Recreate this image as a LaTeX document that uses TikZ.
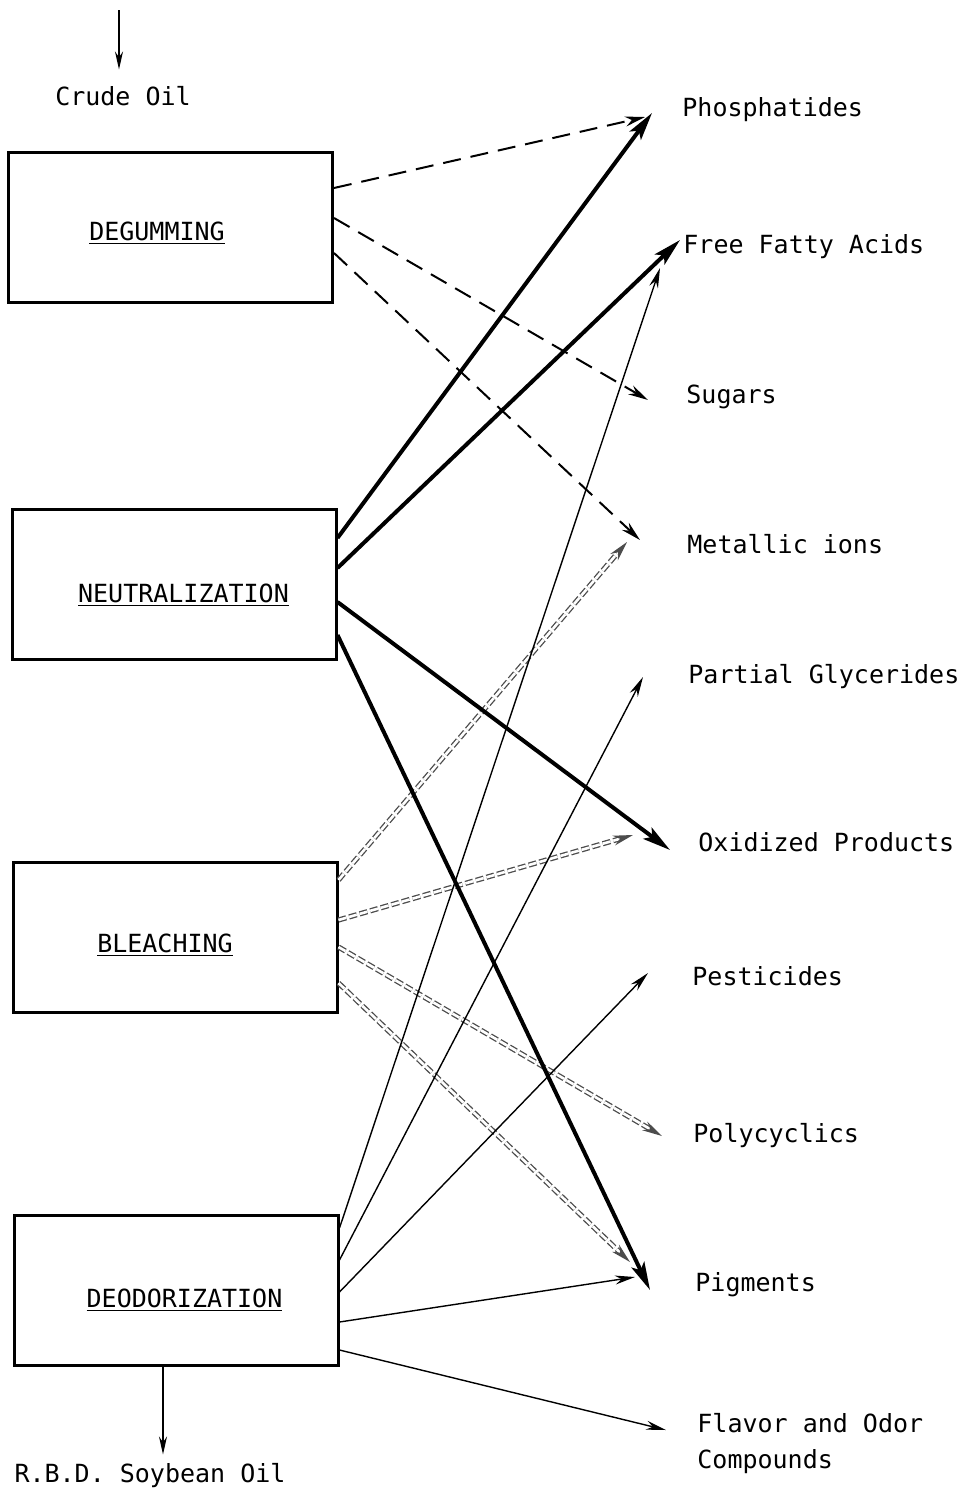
\documentclass[tikz,border=0pt]{standalone}
\usepackage{fontspec}
\setmainfont{DejaVu Sans Mono}
\usetikzlibrary{arrows.meta}
\begin{document}
\begin{tikzpicture}[x=0.5pt,y=-0.5pt,
  every node/.style={font=\fontsize{12.5}{18}\selectfont, inner sep=0pt},
  procbox/.style={draw, line width=1.5pt, minimum width=162pt, minimum height=75pt},
  lbl/.style={anchor=base west},
  gumarr/.style={line width=1pt, dash pattern=on 9pt off 5pt, -{Stealth[length=10pt,width=5pt]}},
  neutarr/.style={line width=2pt, -{Stealth[length=14pt,width=7pt,inset=3pt]}},
  bleacharr/.style={draw=black!70, line width=0.65pt, double=white, double distance=1.3pt, dash pattern=on 4pt off 1.5pt, -{Stealth[length=10pt,width=5pt]}},
  deodarr/.style={line width=0.7pt, -{Stealth[length=10pt,width=4.5pt]}},
  flowarr/.style={line width=0.7pt, -{Stealth[length=9pt,width=4pt]}}]
\useasboundingbox (0,0) rectangle (966,1490);

% process boxes
\node[procbox] (degum)  at (170.5,227.5) {};
\node[procbox] (neut)   at (174,584.5) {};
\node[procbox] (bleach) at (175,937.5) {};
\node[procbox] (deod)   at (176,1290.5) {};

\node[anchor=base] (tdegum)  at (157,240)  {\underline{DEGUMMING}};
\node[anchor=base] (tneut)   at (183.5,602) {\underline{NEUTRALIZATION}};
\node[anchor=base] (tbleach) at (165,952)  {\underline{BLEACHING}};
\node[anchor=base] (tdeod)   at (184.5,1307) {\underline{DEODORIZATION}};

% input / output
\node[anchor=base] (crude) at (123,105) {Crude Oil};
\node[anchor=base] (rbd) at (150,1482) {R.B.D. Soybean Oil};
\coordinate (crudeTop) at (119,10);
\draw[flowarr] (crudeTop) -- ([xshift=-2pt,yshift=8pt]crude.north);
\draw[flowarr] ([xshift=-6.5pt]deod.south) -- ([xshift=6.5pt,yshift=4pt]rbd.north);

% products
\node[lbl] (phos)   at (682,116)  {Phosphatides};
\node[lbl] (ffa)    at (683,253)  {Free Fatty Acids};
\node[lbl] (sugars) at (686,403)  {Sugars};
\node[lbl] (metal)  at (687,553)  {Metallic ions};
\node[lbl] (partial) at (688,683) {Partial Glycerides};
\node[lbl] (oxid)   at (698,851)  {Oxidized Products};
\node[lbl] (pest)   at (692,985)  {Pesticides};
\node[lbl] (poly)   at (693,1142) {Polycyclics};
\node[lbl] (pig)    at (695,1291) {Pigments};
\node[anchor=north west, align=left] (flavor) at (697,1413) {Flavor and Odor\\Compounds};

% degumming
\draw[gumarr] ([yshift=19.75pt]degum.east) -- ([xshift=-18.5pt,yshift=-0.5pt]phos.base west);
\draw[gumarr] ([yshift=4.75pt]degum.east) -- ([xshift=-19pt,yshift=1.5pt]sugars.base west);
\draw[gumarr] ([yshift=-12.75pt]degum.east) -- ([xshift=-23.5pt,yshift=6.5pt]metal.base west);

% bleaching
\draw[bleacharr] ([yshift=28.75pt]bleach.east) -- ([xshift=-30pt,yshift=5.5pt]metal.base west);
\draw[bleacharr] ([yshift=8.75pt]bleach.east) -- ([xshift=-32.5pt,yshift=8pt]oxid.base west);
\draw[bleacharr] ([yshift=-4.75pt]bleach.east) -- ([xshift=-15.5pt,yshift=3pt]poly.base west);
\draw[bleacharr] ([yshift=-22.75pt]bleach.east) -- ([xshift=-32.5pt,yshift=14.5pt]pig.base west);

% deodorization
\draw[deodarr] ([yshift=31.25pt]deod.east) -- ([xshift=-11.5pt,yshift=-7.5pt]ffa.base west);
\draw[deodarr] ([yshift=15.25pt]deod.east) -- ([xshift=-22.5pt,yshift=3pt]partial.base west);
\draw[deodarr] ([yshift=-0.75pt]deod.east) -- ([xshift=-22pt,yshift=6pt]pest.base west);
\draw[deodarr] ([yshift=-15.75pt]deod.east) -- ([xshift=-30pt,yshift=7pt]pig.base west);
\draw[deodarr] ([yshift=-29.75pt]deod.east) -- ([xshift=-15.5pt,yshift=-8.5pt]flavor.north west);

% neutralization
\draw[neutarr] ([yshift=23.25pt]neut.east) -- ([xshift=-15pt,yshift=1.5pt]phos.base west);
\draw[neutarr] ([yshift=8.25pt]neut.east) -- ([xshift=-1.5pt,yshift=6.5pt]ffa.base west);
\draw[neutarr] ([yshift=-8.75pt]neut.east) -- ([xshift=-14pt,yshift=0.5pt]oxid.base west);
\draw[neutarr] ([yshift=-25.25pt]neut.east) -- ([xshift=-22.5pt,yshift=0.5pt]pig.base west);
\end{tikzpicture}
\end{document}
